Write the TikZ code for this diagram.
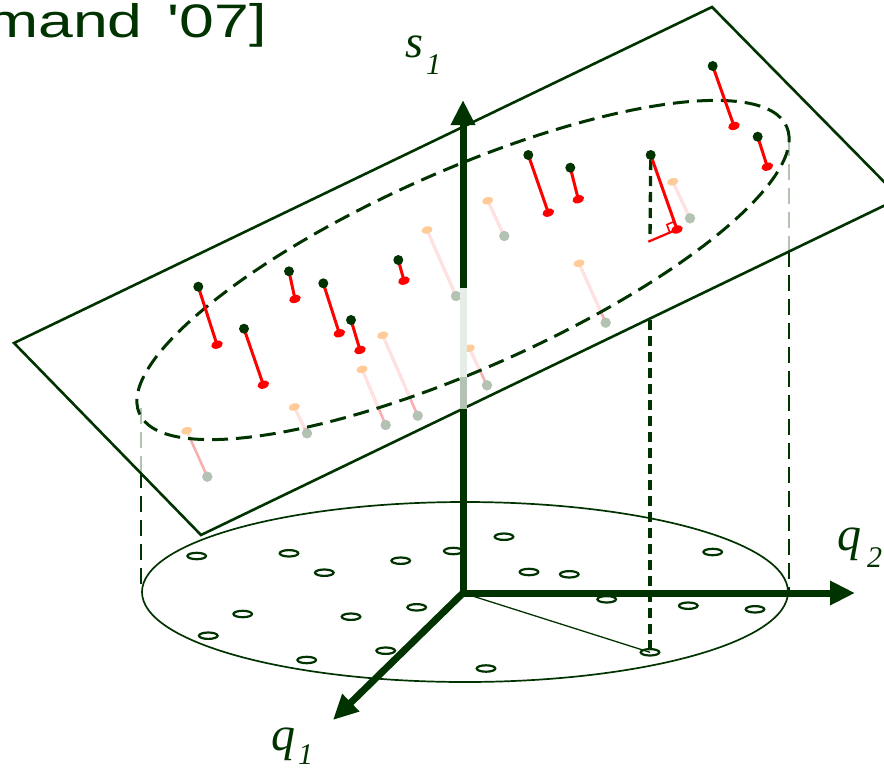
\documentclass[tikz,border=0pt]{standalone}
\usepackage{fontspec}
\usepackage{graphicx}
\usetikzlibrary{arrows.meta}
\newfontfamily\labsans{Liberation Sans}
\newfontfamily\labserif{Liberation Serif}
\definecolor{dkg}{RGB}{0,51,0}
\definecolor{pgray}{RGB}{179,194,179}
\definecolor{plight}{RGB}{230,236,230}
\definecolor{peach}{RGB}{255,204,153}
\definecolor{pinkl}{RGB}{255,226,226}
\definecolor{pinkd}{RGB}{247,176,176}
\definecolor{ptred}{RGB}{255,0,0}
\begin{document}
\begin{tikzpicture}[x=1pt,y=-1pt,
  planeln/.style={draw=dkg,line width=2.6pt,line join=miter},
  obsln/.style={draw=ptred,line width=3pt},
  projln/.style={line width=2.6pt},
  smallell/.style={draw=dkg,line width=2.2pt},
  axisln/.style={draw=dkg,line width=7pt,-{Triangle[length=25pt,width=23pt]}},
  vdash/.style={line width=2.8pt,dash pattern=on 16pt off 8pt},
  mdash/.style={draw=dkg,line width=3.3pt,dash pattern=on 10pt off 6pt},
  lab/.style={anchor=base west,inner sep=0pt,text=dkg}]
\useasboundingbox (0,0) rectangle (884,772);

% title
\node[lab] (title) at (-14,37) {\labsans\scalebox{1.33}[1]{\fontsize{47}{47}\selectfont mand\kern6pt{} '07]}};

% bottom ellipse (data domain)
\draw[dkg,line width=1.7pt] (465,592) ellipse (323 and 90);
\foreach \px/\py in {196.7/556,289/553.3,324.3/572.7,400.7/560.7,453.3/551,242.7/614,208.3/635.7,351/616.7,416.7/607.3,385.7/650.7,306.7/660,486/668.5,504/536.7,529/572,569.3/574.3,606.7/599.3,688.3/605.7,755/609.3,712.7/552,650/652.3}
  \draw[smallell] (\px,\py) ellipse (9.3 and 3.2);

% coordinates of axes
\coordinate (O) at (463,593);
\coordinate (S1tip) at (463,100);
\coordinate (Q2tip) at (855,593);
\coordinate (Q1tip) at (333,720);
\coordinate (Pfoot) at (650,652.3);

% thin line from origin to sample
\draw[dkg,line width=1.3pt] (O) -- (Pfoot);

% vertical dashed lines
\draw[vdash,draw=pgray] (141,408) -- (141,472);
\draw[vdash,draw=dkg] (141,472) -- (141,590);
\draw[vdash,draw=pgray] (789,140) -- (789,251);
\draw[vdash,draw=dkg] (789,251) -- (789,590);
\draw[mdash] (650.7,160) -- (650,240);
\draw[mdash] (650,320) -- (Pfoot);

% plane
\draw[planeln] (14,343) -- (712,7) -- (900,198) -- (201,535) -- cycle;

% projected (faint) points
\foreach \ax/\ay/\bx/\by in {672.7/181.7/690/218.3,487.7/200.7/504.3/236,427/230/456/296,382.7/335.3/417.7/415.7,362/369.3/385.7/425,294.3/407/307/433.3,186.7/430.7/207.3/476.7,469.3/348.3/487/385.3,579/263.3/605.7/322.7}
  \draw[projln,draw=pinkd] (\ax,\ay) -- (\bx,\by);
\begin{scope}
  \clip[rotate around={23.9:(463,270)}] (463,270) ellipse (354 and 99);
  \foreach \ax/\ay/\bx/\by in {672.7/181.7/690/218.3,487.7/200.7/504.3/236,427/230/456/296,382.7/335.3/417.7/415.7,362/369.3/385.7/425,294.3/407/307/433.3,186.7/430.7/207.3/476.7,469.3/348.3/487/385.3,579/263.3/605.7/322.7}
    \draw[projln,draw=pinkl] (\ax,\ay) -- (\bx,\by);
\end{scope}
\foreach \ax/\ay/\bx/\by in {672.7/181.7/690/218.3,487.7/200.7/504.3/236,427/230/456/296,382.7/335.3/417.7/415.7,362/369.3/385.7/425,294.3/407/307/433.3,186.7/430.7/207.3/476.7,469.3/348.3/487/385.3,579/263.3/605.7/322.7}
{
  \fill[peach,rotate around={15:(\ax,\ay)}] (\ax,\ay) ellipse (5.7 and 3.8);
  \fill[pgray] (\bx,\by) circle (5.2);
}

% dashed ellipse on the plane
\draw[dkg,line width=3pt,dash pattern=on 16pt off 8pt,rotate around={23.9:(463,270)}] (463,270) ellipse (354 and 99);

% observations with their projections
\foreach \ax/\ay/\bx/\by in {712.7/66/734/126,757.7/136.7/767.3/166.7,528.3/155/548.3/212.7,570.3/167.7/578.3/199.3,650.7/155/677/229.5,198.3/286.7/217/344.7,289/271.3/295/299,323.3/283.3/339.3/333.3,398.3/260/404/280.7,351/320/360/350,244/328.7/263.3/384.7}
{
  \draw[obsln] (\ax,\ay) -- (\bx,\by);
  \fill[dkg] (\ax,\ay) circle (5);
  \fill[ptred,rotate around={18:(\bx,\by)}] (\bx,\by) ellipse (6 and 3.9);
}
% right-angle marker
\draw[ptred,line width=2.2pt] (648.3,241.7) -- (677,229.5);
\draw[ptred,line width=1.6pt] (674.3,221.5) -- (666.9,224.6) -- (669.6,232.1);

% axes
\draw[axisln] (O) -- (S1tip);
\draw[plight,line width=7pt] (463,288) -- (463,377);
\draw[pgray,line width=7pt] (463,377) -- (463,409);
\draw[axisln] (O) -- (Q2tip);
\draw[axisln] (O) -- (Q1tip);

% axis labels
\node[lab] (s) at (405,57) {\labserif\itshape\fontsize{46}{46}\selectfont s};
\node[lab] (s1) at (426,74) {\labserif\itshape\fontsize{30}{30}\selectfont 1};
\node[lab] (q2) at (837,550) {\labserif\itshape\fontsize{48}{48}\selectfont q};
\node[lab] (q2s) at (867,567) {\labserif\itshape\fontsize{30}{30}\selectfont 2};
\node[lab] (q1) at (271,750) {\labserif\itshape\fontsize{48}{48}\selectfont q};
\node[lab] (q1s) at (298,764) {\labserif\itshape\fontsize{30}{30}\selectfont 1};
\end{tikzpicture}
\end{document}
